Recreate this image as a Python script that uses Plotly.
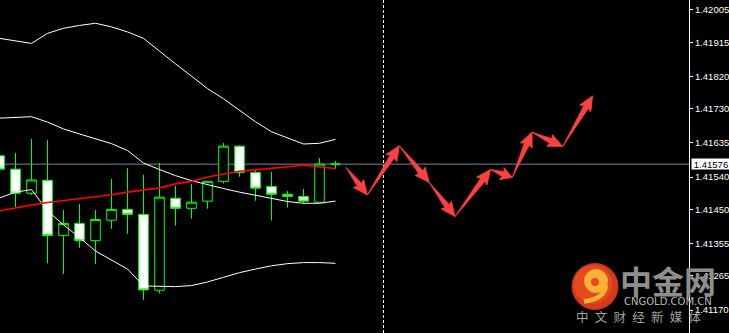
import math
import plotly.graph_objects as go

# ---------------- data ----------------
bar_index = list(range(22))
opens = [1.41599, 1.41562, 1.41495, 1.41531, 1.41377, 1.41411, 1.41363, 1.41420, 1.41450, 1.41436, 1.41225,
         1.41481, 1.41453, 1.41473, 1.41528, 1.41626, 1.41553, 1.41514, 1.41492, 1.41486, 1.41470, 1.41576]
highs = [1.41600, 1.41607, 1.41646, 1.41643, 1.41448, 1.41465, 1.41448, 1.41535, 1.41565, 1.41546, 1.41579,
         1.41516, 1.41521, 1.41528, 1.41635, 1.41629, 1.41562, 1.41554, 1.41501, 1.41507, 1.41593, 1.41585]
lows = [1.41562, 1.41456, 1.41490, 1.41300, 1.41270, 1.41343, 1.41298, 1.41396, 1.41382, 1.41198, 1.41216,
        1.41405, 1.41424, 1.41452, 1.41522, 1.41541, 1.41474, 1.41419, 1.41455, 1.41467, 1.41470, 1.41563]
closes = [1.41562, 1.41495, 1.41532, 1.41377, 1.41411, 1.41363, 1.41422, 1.41450, 1.41436, 1.41226, 1.41484,
          1.41453, 1.41470, 1.41528, 1.41626, 1.41553, 1.41509, 1.41492, 1.41486, 1.41473, 1.41576, 1.41576]

band_upper = [1.41926, 1.41919, 1.41912, 1.41940, 1.41954, 1.41962, 1.41968, 1.41958, 1.41944, 1.41926, 1.41890,
              1.41855, 1.41821, 1.41786, 1.41758, 1.41726, 1.41694, 1.41666, 1.41648, 1.41632, 1.41634, 1.41645]
band_middle = [1.41704, 1.41706, 1.41708, 1.41693, 1.41674, 1.41660, 1.41647, 1.41633, 1.41614, 1.41579, 1.41561,
               1.41544, 1.41530, 1.41518, 1.41508, 1.41498, 1.41489, 1.41479, 1.41472, 1.41467, 1.41467, 1.41473]
band_lower = [1.41482, 1.41498, 1.41505, 1.41446, 1.41407, 1.41372, 1.41334, 1.41309, 1.41284, 1.41237, 1.41235,
              1.41235, 1.41238, 1.41248, 1.41261, 1.41274, 1.41284, 1.41293, 1.41299, 1.41302, 1.41302, 1.41300]
ma_red = [1.41446, 1.41455, 1.41462, 1.41469, 1.41474, 1.41480, 1.41485, 1.41491, 1.41498, 1.41504, 1.41510,
          1.41521, 1.41528, 1.41540, 1.41549, 1.41556, 1.41560, 1.41565, 1.41569, 1.41573, 1.41568, 1.41564]

forecast_x = [21.66, 22.99, 24.99, 26.86, 28.47, 30.69, 32.05, 33.28, 35.20, 37.07]
forecast_y = [1.41567, 1.41490, 1.41627, 1.41525, 1.41430, 1.41561, 1.41539, 1.41665, 1.41625, 1.41766]

forecast_start = 24
last_price = 1.41576
tick_vals = [1.42005, 1.41915, 1.41820, 1.41730, 1.41635, 1.41540, 1.41450, 1.41355, 1.41265, 1.41170]
tick_text = ["1.42005", "1.41915", "1.41820", "1.41730", "1.41635", "1.41540", "1.41450", "1.41355",
             "1.41265", "1.41170"]

# ---------------- layout constants ----------------
W, H = 729, 333
R_MARGIN = 40
PLOT_W = W - R_MARGIN
X_RANGE = [0.03125, 0.03125 + PLOT_W / 16.0]
Y_RANGE = [1.41106, 1.420328]


def to_px(x, y):
    px = (x - X_RANGE[0]) / (X_RANGE[1] - X_RANGE[0]) * PLOT_W
    py = (Y_RANGE[1] - y) / (Y_RANGE[1] - Y_RANGE[0]) * H
    return px, py


def to_data(px, py):
    x = X_RANGE[0] + px / PLOT_W * (X_RANGE[1] - X_RANGE[0])
    y = Y_RANGE[1] - py / H * (Y_RANGE[1] - Y_RANGE[0])
    return x, y


fig = go.Figure()

fig.add_trace(go.Candlestick(
    x=bar_index, open=opens, high=highs, low=lows, close=closes,
    increasing=dict(line=dict(color="#00FF00", width=1), fillcolor="#000000"),
    decreasing=dict(line=dict(color="#00FF00", width=1), fillcolor="#FFFFFF"),
    whiskerwidth=0, hoverinfo="skip", showlegend=False,
))

for band in (band_upper, band_middle, band_lower):
    fig.add_trace(go.Scatter(x=bar_index, y=band, mode="lines",
                             line=dict(color="#FFFFFF", width=1), hoverinfo="skip", showlegend=False))

fig.add_trace(go.Scatter(x=bar_index, y=ma_red, mode="lines",
                         line=dict(color="#FF0000", width=1.6), hoverinfo="skip", showlegend=False))

# forecast arrows as tapered wedge polygons
for i in range(len(forecast_x) - 1):
    sx, sy = to_px(forecast_x[i], forecast_y[i])
    ex, ey = to_px(forecast_x[i + 1], forecast_y[i + 1])
    L = math.hypot(ex - sx, ey - sy)
    dx, dy = (ex - sx) / L, (ey - sy) / L
    nx, ny = -dy, dx
    h = min(13.0, 0.42 * L)
    bx, by = ex - h * dx, ey - h * dy
    ws, wh = 2.6, 6.5
    pts = [(sx, sy), (bx + ws * nx, by + ws * ny), (bx - 1.5 * dx + wh * nx, by - 1.5 * dy + wh * ny),
           (ex, ey), (bx - 1.5 * dx - wh * nx, by - 1.5 * dy - wh * ny), (bx - ws * nx, by - ws * ny), (sx, sy)]
    dpts = [to_data(px, py) for px, py in pts]
    fig.add_trace(go.Scatter(x=[p[0] for p in dpts], y=[p[1] for p in dpts], mode="lines",
                             fill="toself", fillcolor="#FF4040", line=dict(color="#FF4040", width=0.8),
                             hoverinfo="skip", showlegend=False))

shapes = [
    dict(type="line", xref="paper", yref="y", x0=0, x1=1, y0=last_price, y1=last_price,
         line=dict(color="#778899", width=1), layer="below"),
    dict(type="line", xref="x", yref="paper", x0=forecast_start, x1=forecast_start, y0=0, y1=1,
         line=dict(color="#FFFFFF", width=1, dash="3px,2px"), layer="below"),
]

# logo
LX, LY = 595 / PLOT_W, 1 - 286.5 / H
def circ(cx, cy, r, color, line_color=None):
    return dict(type="circle", xref="paper", yref="paper", xsizemode="pixel", ysizemode="pixel",
                xanchor=LX, yanchor=LY, x0=cx - r, x1=cx + r, y0=cy - r, y1=cy + r,
                fillcolor=color, line=dict(color=line_color or color, width=1), layer="above")

shapes += [
    circ(0, 0, 23, "#D6391B", "#C9301A"),
    circ(-2, 2, 19, "#E4491F"),
    circ(1, 5.5, 11.5, "#F8B236"),
    circ(0, 4.5, 3.6, "#E4491F"),
    dict(type="path", xref="paper", yref="paper", xsizemode="pixel", ysizemode="pixel",
         xanchor=LX, yanchor=LY, path="M 11,1 Q 10,-12 -11,-15",
         line=dict(color="#F8B236", width=4.5), layer="above"),
]

annotations = [
    dict(xref="paper", yref="y", x=1, y=last_price, xanchor="left", yanchor="middle", xshift=2,
         text="1.41576", showarrow=False, bgcolor="#FFFFFF", borderpad=0, width=38, height=10,
         align="center", font=dict(family="Liberation Sans", size=9.5, color="#000000")),
    dict(xref="paper", yref="paper", x=667.5 / PLOT_W, y=1 - 280 / H, xanchor="center", yanchor="middle",
         text="<b>中金网</b>", showarrow=False,
         font=dict(family="Noto Sans CJK SC", size=32, color="#8E8E8E")),
    dict(xref="paper", yref="paper", x=667.5 / PLOT_W, y=1 - 301.5 / H, xanchor="center", yanchor="middle",
         text="CNGOLD.COM.CN", showarrow=False,
         font=dict(family="DejaVu Sans", size=10, color="#B8B8B8")),
    dict(xref="paper", yref="paper", x=638.5 / PLOT_W, y=1 - 316 / H, xanchor="center", yanchor="middle",
         text="\u2002".join("中文财经新媒体"), showarrow=False,
         font=dict(family="Noto Sans CJK SC", size=12.5, color="#A3A3A3")),
]

fig.update_layout(
    width=W, height=H,
    margin=dict(l=0, r=R_MARGIN, t=0, b=0, pad=0),
    paper_bgcolor="#000000", plot_bgcolor="#000000",
    showlegend=False, boxgap=0.4, boxgroupgap=0,
    xaxis=dict(range=X_RANGE, visible=False, rangeslider=dict(visible=False), fixedrange=True),
    yaxis=dict(range=Y_RANGE, side="right", tickvals=tick_vals, ticktext=tick_text,
               tickfont=dict(family="Liberation Sans", size=9.5, color="#FFFFFF"),
               ticks="outside", ticklen=3, tickcolor="#FFFFFF", tickwidth=1,
               showline=True, linecolor="#FFFFFF", linewidth=1,
               showgrid=False, zeroline=False, fixedrange=True),
    shapes=shapes, annotations=annotations,
)

fig.write_html("out.html")
